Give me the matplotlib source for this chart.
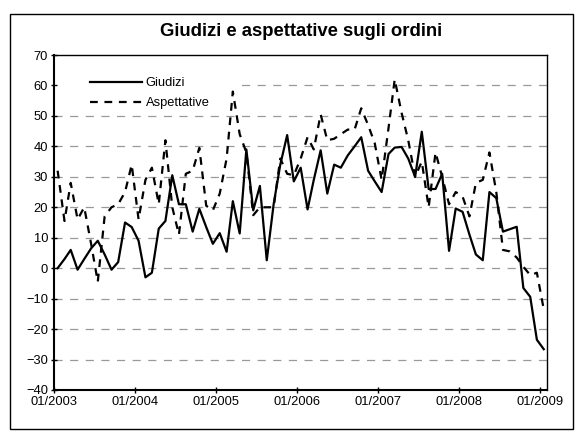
import numpy as np
import pandas as pd
import matplotlib
matplotlib.use('Agg')
import matplotlib.pyplot as plt
import matplotlib.dates as mdates
import matplotlib.transforms as mtransforms
from matplotlib.patches import Rectangle

# dati mensili 01/2003 - 01/2009
mesi = pd.date_range('2003-01-01', periods=73, freq='MS')
giudizi = [0, 3, 6, -0.5, 3, 6.5, 9, 4.5, -0.5, 2,
           15, 13.5, 9, -3, -1.5, 13, 15.5, 30.5, 21, 21,
           12, 19.5, 13.5, 8, 11.5, 5.4, 22, 11.4, 39, 19,
           27, 2.6, 21, 34, 43.7, 28.5, 33, 19.3, 29, 38.7,
           24.5, 34, 33, 37, 40, 43, 32, 28.5, 25, 37.5,
           39.6, 39.8, 36, 30, 44.8, 26, 26, 31, 5.7, 19.6,
           18.5, 11, 4.5, 2.6, 25, 23, 12, 12.8, 13.6, -6.5,
           -9.4, -23.5, -26.6]
aspettative = [32, 15.5, 28, 16, 20, 8, -4.5, 17, 20, 21,
               25, 34, 16, 29, 33, 21, 42, 20, 11, 31,
               32, 39.5, 20.5, 19, 24.5, 36, 58, 44, 38, 17.4,
               20, 20, 20, 36, 31, 30.5, 36, 43, 39, 50.5,
               42, 42.5, 44, 45.5, 45.5, 52.5, 47, 41, 29, 46,
               62, 51, 42, 30, 35, 20, 38, 30, 21, 25,
               23.5, 17, 28, 29, 38, 25, 6, 5.5, 3.5, 0.5,
               -2.3, -1.5, -13.5]
anni = pd.date_range('2003-01-01', '2009-01-01', freq='YS')

plt.rcParams['font.family'] = ['Liberation Sans', 'DejaVu Sans']

fig = plt.figure(figsize=(5.78, 4.32), dpi=100)
fig.patches.append(Rectangle((9.5/578, 1-428.5/432), 563/578, 415/432,
                             transform=fig.transFigure, fill=False,
                             edgecolor='black', linewidth=1))
ax = fig.add_axes([54.3/578, 1-390/432, 493/578, 335/432])

# punti al centro del mese (asse Excel "tra i segni di graduazione")
x = mesi + pd.Timedelta(days=15)
ax.plot(x, giudizi, color='black', linewidth=1.6, label='Giudizi', zorder=3)
ax.plot(x, aspettative, color='black', linewidth=1.6, dashes=(3.5, 3),
        label='Aspettative', zorder=3)

ax.set_ylim(-40, 70)
ax.set_yticks(np.arange(-40, 71, 10))
ax.set_xlim(mesi[0], pd.Timestamp('2009-02-01'))
ax.set_xticks(anni)
ax.xaxis.set_major_formatter(mdates.DateFormatter('%m/%Y'))
ax.tick_params(direction='inout', length=5, width=1, labelsize=9.3, pad=2)

for v in range(-30, 61, 10):
    ax.axhline(v, color='#999999', linewidth=0.9, dashes=(6.5, 6), zorder=0)

# fondo bianco della legenda (copre la griglia)
trans = mtransforms.blended_transform_factory(ax.transAxes, ax.transData)
ax.add_patch(Rectangle((0, 53), 0.373, 15, transform=trans,
                       facecolor='white', edgecolor='none', zorder=1))

for s in ax.spines.values():
    s.set_color('black')
    s.set_zorder(4)
ax.spines['left'].set_linewidth(1.5)
ax.spines['bottom'].set_linewidth(1.5)
ax.spines['top'].set_linewidth(1)
ax.spines['right'].set_linewidth(1)

ax.legend(loc='upper left', bbox_to_anchor=(0.0724, 0.933), fontsize=9.3,
          handlelength=4.0, handletextpad=0.3, labelspacing=0.6,
          borderpad=0, borderaxespad=0, frameon=False)

fig.text(301/578, 1-32/432, 'Giudizi e aspettative sugli ordini', ha='center',
         va='center', fontsize=13.3, fontweight='bold')

fig.savefig('out.png', dpi=100)
